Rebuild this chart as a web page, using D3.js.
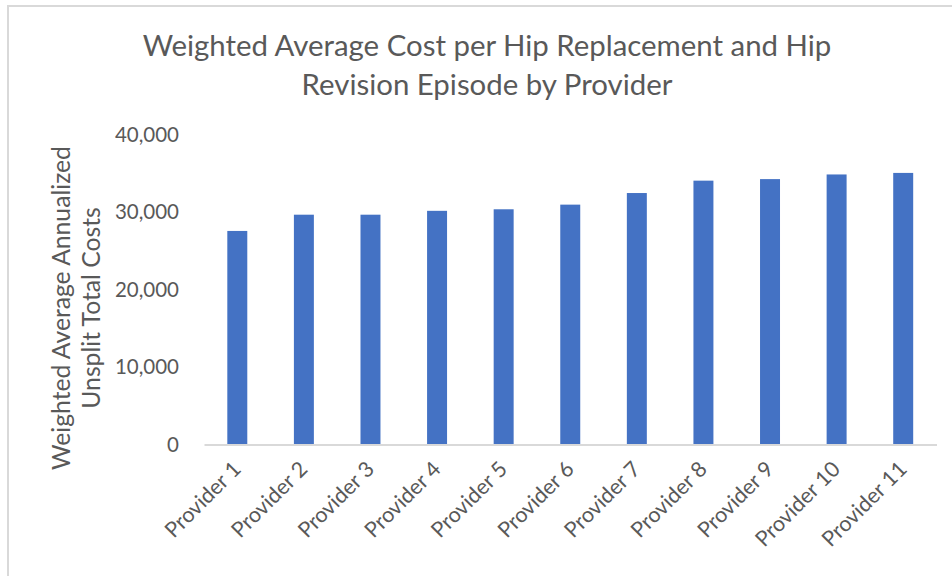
<!DOCTYPE html>
<html>
<head>
<meta charset="utf-8">
<script src="https://cdn.jsdelivr.net/npm/d3@7"></script>
<style>
  html, body { margin: 0; padding: 0; background: #fff; }
  svg { display: block; }
  text { font-family: Lato, "Open Sans", sans-serif; fill: #595959; }
</style>
</head>
<body>
<svg id="chart" width="952" height="576"></svg>
<script>
// Data
const providers = ["Provider 1", "Provider 2", "Provider 3", "Provider 4", "Provider 5",
  "Provider 6", "Provider 7", "Provider 8", "Provider 9", "Provider 10", "Provider 11"];
const avgCosts = [27600, 29700, 29700, 30200, 30400, 31000, 32500, 34100, 34300, 34900, 35100];
const yTicks = [0, 10000, 20000, 30000, 40000];
const titleLines = ["Weighted Average Cost per Hip Replacement and Hip", "Revision Episode by Provider"];
const yTitleLines = ["Weighted Average Annualized", "Unsplit Total Costs"];

const svg = d3.select("#chart");
const W = 952, H = 576;

// Chart-area frame (top and left edges visible)
svg.append("path")
  .attr("d", `M8,${H} L8,6 L${W},6`)
  .attr("fill", "none")
  .attr("stroke", "#d9d9d9")
  .attr("stroke-width", 2);

const x = d3.scaleBand().domain(providers).range([204, 936.5]).paddingInner(0.7).paddingOuter(0.35);
const y = d3.scaleLinear().domain([0, 40000]).range([444.5, 135]);

// Title
svg.append("g").selectAll("text").data(titleLines).join("text")
  .attr("x", 487)
  .attr("y", (d, i) => 56 + i * 39)
  .attr("text-anchor", "middle")
  .style("font-size", "29.4px")
  .text(d => d);

// Bars
svg.append("g").selectAll("rect").data(avgCosts).join("rect")
  .attr("x", (d, i) => x(providers[i]))
  .attr("width", x.bandwidth())
  .attr("y", d => y(d))
  .attr("height", d => y(0) - y(d))
  .attr("fill", "#4472c4");

// Y axis (labels only)
const yAxis = svg.append("g")
  .attr("transform", "translate(179,0)")
  .call(d3.axisLeft(y).tickValues(yTicks).tickSize(0).tickPadding(0).tickFormat(d3.format(",")));
yAxis.select(".domain").remove();
yAxis.selectAll("text").style("font-size", "20.5px").attr("fill", "#595959");

// X axis
const xAxis = svg.append("g")
  .attr("transform", `translate(0,${y(0)})`)
  .call(d3.axisBottom(x).tickSize(0).tickPadding(0));
xAxis.select(".domain").attr("stroke", "#d9d9d9").attr("stroke-width", 2);
xAxis.selectAll("text")
  .style("font-size", "21.5px")
  .attr("fill", "#595959")
  .attr("text-anchor", "end")
  .attr("dy", null)
  .attr("transform", "translate(5,26) rotate(-45)");

// Y axis title
svg.append("g")
  .attr("transform", "translate(0,308) rotate(-90)")
  .selectAll("text").data(yTitleLines).join("text")
  .attr("x", 0)
  .attr("y", (d, i) => 70 + i * 30)
  .attr("text-anchor", "middle")
  .style("font-size", "24.7px")
  .text(d => d);
</script>
</body>
</html>
